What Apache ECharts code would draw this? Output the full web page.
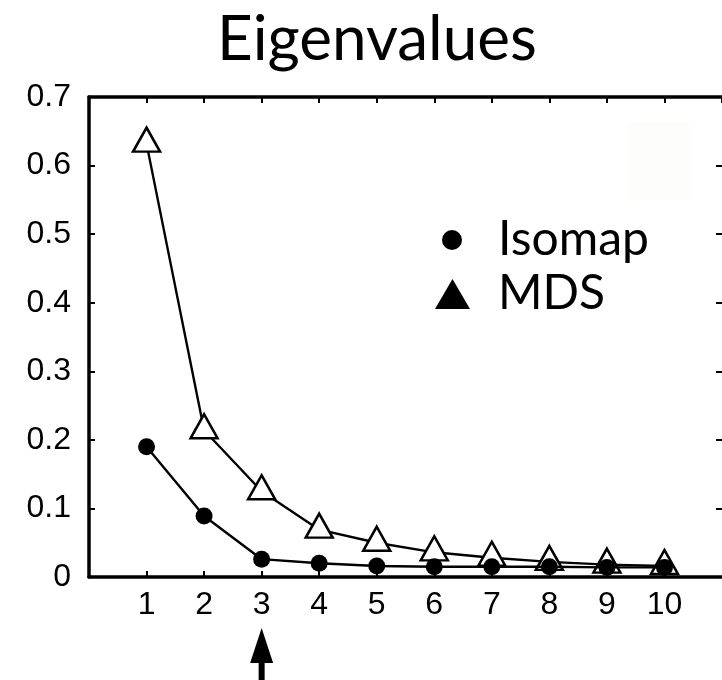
<!DOCTYPE html>
<html>
<head>
<meta charset="utf-8">
<script src="https://cdn.jsdelivr.net/npm/echarts@6/dist/echarts.min.js"></script>
<style>html,body{margin:0;padding:0;background:#fff}#c{width:722px;height:680px}</style>
</head>
<body>
<div id="c"></div>
<script>
const titleText = 'Eigenvalues';
const dims = [1, 2, 3, 4, 5, 6, 7, 8, 9, 10];
const isomap = [0.190, 0.089, 0.026, 0.020, 0.016, 0.015, 0.015, 0.015, 0.014, 0.014];
const mds = [0.632, 0.214, 0.125, 0.069, 0.050, 0.036, 0.028, 0.022, 0.018, 0.016];
const yTicks = [0, 0.1, 0.2, 0.3, 0.4, 0.5, 0.6, 0.7];
const arrowAt = 3;

const labelFont = {fontFamily: '"Liberation Sans", Arial, sans-serif', fontSize: 32, color: '#000'};
const humanist = 'Lato, "Noto Sans", sans-serif';

const chart = echarts.init(document.getElementById('c'), null, {renderer: 'canvas'});
const axisLine = {show: true, onZero: false, lineStyle: {color: '#000', width: 3.5}};
const tickIn = {show: true, inside: true, length: 6, lineStyle: {color: '#000', width: 2}};

chart.setOption({
  animation: false,
  backgroundColor: '#fff',
  title: {
    text: titleText, left: 212, top: 4,
    textStyle: {fontFamily: humanist, fontWeight: 'normal', fontSize: 62, color: '#000'}
  },
  legend: [
    {
      orient: 'vertical', left: 437, top: 211, itemWidth: 20, itemHeight: 20,
      data: [{name: 'Isomap', icon: 'circle', itemStyle: {color: '#000', borderWidth: 0}}],
      textStyle: {fontFamily: humanist, fontSize: 48, color: '#000', padding: [0, 0, 0, 31]},
      selectedMode: false
    },
    {
      orient: 'vertical', left: 430, top: 265, itemWidth: 35, itemHeight: 30,
      data: [{name: 'MDS', icon: 'triangle', itemStyle: {color: '#000', borderWidth: 0}}],
      textStyle: {fontFamily: humanist, fontSize: 48, color: '#000', padding: [0, 0, 0, 23]},
      selectedMode: false
    }
  ],
  grid: {left: 89, right: -4, top: 97, bottom: 103, containLabel: false},
  xAxis: [
    {
      type: 'value', min: 0, max: 11, interval: 1, position: 'bottom',
      axisLine: axisLine, axisTick: tickIn, splitLine: {show: false},
      axisLabel: Object.assign({margin: 12, showMinLabel: false, showMaxLabel: false,
        formatter: v => (dims.indexOf(v) >= 0 ? String(v) : '')}, labelFont)
    },
    {
      type: 'value', min: 0, max: 11, interval: 1, position: 'top',
      axisLine: axisLine, axisTick: tickIn, splitLine: {show: false}, axisLabel: {show: false}
    }
  ],
  yAxis: [
    {
      type: 'value', min: 0, max: 0.7, interval: 0.1, position: 'left',
      axisLine: axisLine, axisTick: tickIn, splitLine: {show: false},
      axisLabel: Object.assign({margin: 18,
        formatter: v => (Math.abs(v) < 1e-9 ? '0' : v.toFixed(1))}, labelFont)
    },
    {
      type: 'value', min: 0, max: 0.7, interval: 0.1, position: 'right',
      axisLine: {show: false, onZero: false}, axisTick: tickIn, splitLine: {show: false}, axisLabel: {show: false}
    }
  ],
  series: [
    {
      name: 'MDS', type: 'line', xAxisIndex: 0, yAxisIndex: 0, z: 3,
      data: dims.map((d, i) => [d, mds[i]]),
      symbol: 'triangle', symbolSize: [27, 24], symbolOffset: [0, -4],
      itemStyle: {color: '#fff', borderColor: '#000', borderWidth: 2.5},
      lineStyle: {color: '#000', width: 2.4}
    },
    {
      name: 'Isomap', type: 'line', xAxisIndex: 0, yAxisIndex: 0, z: 4,
      data: dims.map((d, i) => [d, isomap[i]]),
      symbol: 'circle', symbolSize: 17,
      itemStyle: {color: '#000', borderColor: '#000', borderWidth: 0},
      lineStyle: {color: '#000', width: 2.4}
    }
  ]
});

// arrow under the chosen dimension
const p = chart.convertToPixel({xAxisIndex: 0, yAxisIndex: 0}, [arrowAt, 0]);
const ax = p[0];
chart.setOption({
  graphic: [
    {type: 'rect', shape: {x: 627, y: 122, width: 64, height: 78}, style: {fill: '#fdfefb'}, z: 0},
    {type: 'polygon', shape: {points: [[ax, 628], [ax - 11.5, 663], [ax + 11.5, 663]]}, style: {fill: '#000'}},
    {type: 'rect', shape: {x: ax - 3, y: 660, width: 6, height: 25}, style: {fill: '#000'}}
  ]
});
</script>
</body>
</html>
